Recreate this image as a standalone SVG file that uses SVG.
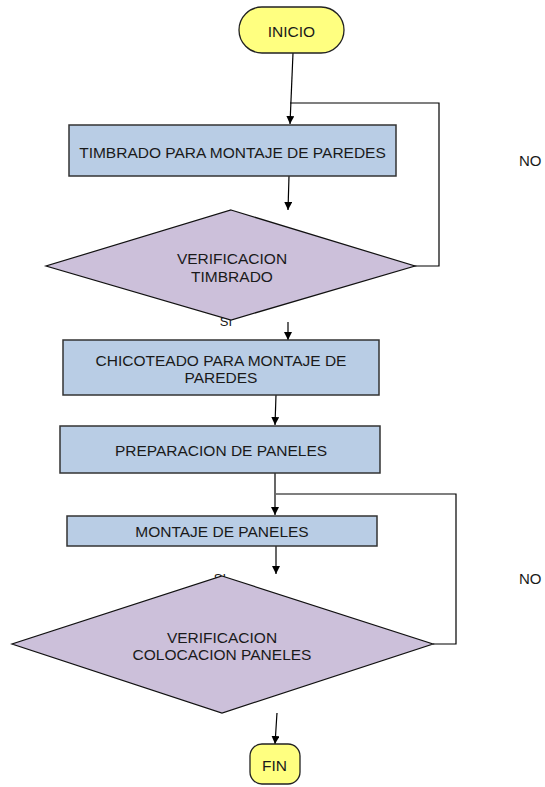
<svg xmlns="http://www.w3.org/2000/svg" width="545" height="787" viewBox="0 0 545 787">
<defs>
<marker id="ah" viewBox="0 0 10 10" refX="10" refY="5" markerWidth="8" markerHeight="8" markerUnits="userSpaceOnUse" orient="auto">
<path d="M0,0 L10,5 L0,10 z" fill="#000"/>
</marker>
<style>
.term{fill:#FFFF80;stroke:#222;stroke-width:1.3}
.proc{fill:#B9CDE5;stroke:#333;stroke-width:1.5}
.dec{fill:#CCC0DA;stroke:#111;stroke-width:1.2}
.c{fill:none;stroke:#000;stroke-width:1.2}
.a{marker-end:url(#ah)}
text{font-family:"Liberation Sans",Arial,sans-serif;font-size:15.5px;fill:#1a1a1a;text-anchor:middle}
.lbl{text-anchor:start;font-size:15px}
.si{font-size:13px}
</style>
</defs>
<rect width="545" height="787" fill="#fff"/>
<g id="connectors">
<line class="c a" x1="293" y1="53" x2="290" y2="124"/>
<polyline class="c" points="414,266 439,266 439,103 290,103"/>
<line class="c a" x1="289" y1="176" x2="288" y2="210"/>
<line class="c a" x1="288" y1="322" x2="288" y2="340"/>
<line class="c a" x1="276" y1="395" x2="275" y2="425"/>
<line class="c a" x1="275" y1="473" x2="275" y2="515"/>
<polyline class="c" points="433,644 456,644 456,494 276,494"/>
<line class="c a" x1="276" y1="546" x2="276" y2="574"/>
<line class="c a" x1="277" y1="713" x2="275" y2="744"/>
</g>
<g id="label-si1"><text class="si" x="226" y="326">SI</text></g>
<g id="label-si2"><text class="si" x="220" y="583">SI</text></g>
<g id="inicio">
<rect class="term" x="239" y="7" width="105" height="46" rx="23" ry="23"/>
<text x="291.5" y="37">INICIO</text>
</g>
<g id="timbrado">
<rect class="proc" x="69" y="125" width="327" height="51"/>
<text x="232.5" y="157.5">TIMBRADO PARA MONTAJE DE PAREDES</text>
</g>
<g id="verif-timbrado">
<polygon class="dec" points="231,210 415,266 231,320 46,266"/>
<text x="232" y="264">VERIFICACION</text>
<text x="232" y="282">TIMBRADO</text>
</g>
<g id="chicoteado">
<rect class="proc" x="63" y="340" width="316" height="55"/>
<text x="221" y="366">CHICOTEADO PARA MONTAJE DE</text>
<text x="221" y="383">PAREDES</text>
</g>
<g id="preparacion">
<rect class="proc" x="60" y="426" width="320" height="47"/>
<text x="221" y="456">PREPARACION DE PANELES</text>
</g>
<g id="montaje">
<rect class="proc" x="67" y="516" width="310" height="30"/>
<text x="222" y="537">MONTAJE DE PANELES</text>
</g>
<g id="verif-colocacion">
<polygon class="dec" points="222,576 433,644 222,713 12,644"/>
<text x="222" y="643">VERIFICACION</text>
<text x="222" y="660">COLOCACION PANELES</text>
</g>
<g id="fin">
<rect class="term" x="250" y="744" width="50" height="40" rx="12" ry="12"/>
<text x="274.5" y="771">FIN</text>
</g>
<g id="label-no1"><text class="lbl" x="519" y="165.5">NO</text></g>
<g id="label-no2"><text class="lbl" x="519" y="583.5">NO</text></g>
</svg>
